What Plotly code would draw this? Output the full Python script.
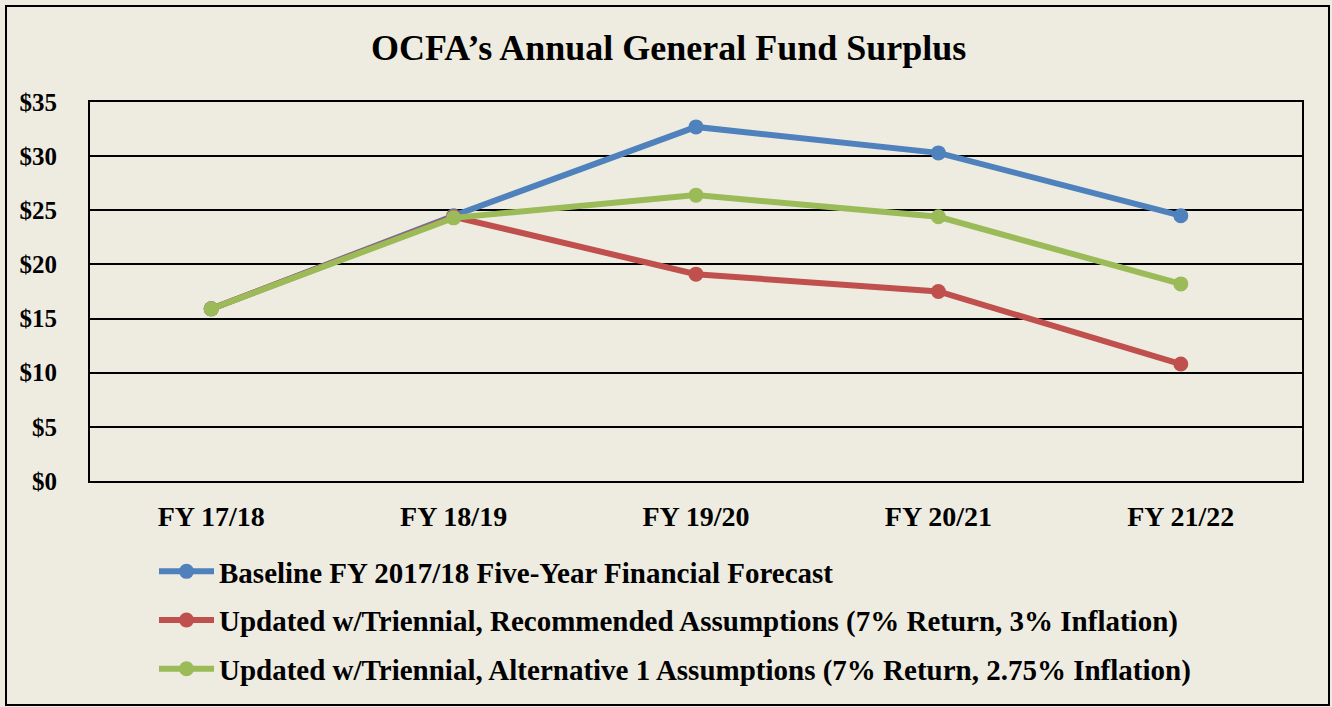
import plotly.graph_objects as go

categories = ["FY 17/18", "FY 18/19", "FY 19/20", "FY 20/21", "FY 21/22"]
baseline = [15.9, 24.5, 32.7, 30.3, 24.5]
recommended = [15.9, 24.4, 19.1, 17.5, 10.8]
alternative = [15.9, 24.3, 26.4, 24.4, 18.2]
series_names = [
    "Baseline FY 2017/18 Five-Year Financial Forecast",
    "Updated w/Triennial, Recommended Assumptions (7% Return, 3% Inflation)",
    "Updated w/Triennial, Alternative 1 Assumptions (7% Return, 2.75% Inflation)",
]
colors = ["#4F81BD", "#C0504D", "#9BBB59"]
y_ticks = [0, 5, 10, 15, 20, 25, 30, 35]
y_labels = ["$" + str(v) for v in y_ticks]

FONT = "Liberation Serif"
W, H = 1332, 707
L, R, T, B = 90, 30, 102, 226

fig = go.Figure()
for i, (name, vals) in enumerate(zip(series_names, [baseline, recommended, alternative])):
    fig.add_trace(go.Scatter(
        x=categories, y=vals, name="<b>" + name + "</b>", mode="lines+markers",
        line=dict(color=colors[i], width=6),
        marker=dict(color=colors[i], size=15),
        legendgroup="g" + str(i),
    ))

pw = W - L - R
ph = H - T - B
def px_x(p):
    return (p - L) / pw
def px_y(p):
    return (H - B - p) / ph

fig.add_shape(type="rect", xref="paper", yref="paper",
              x0=px_x(6), x1=px_x(1329), y0=px_y(705), y1=px_y(6),
              line=dict(color="black", width=2), fillcolor="rgba(0,0,0,0)", layer="below")

fig.update_layout(
    width=W, height=H,
    margin=dict(l=L, r=R, t=T, b=B, pad=0),
    paper_bgcolor="#EEECE1", plot_bgcolor="#EEECE1",
    font=dict(family=FONT, color="black"),
    title=dict(text="<b>OCFA’s Annual General Fund Surplus</b>", x=0.502, xref="container",
               xanchor="center", y=1 - 47 / H, yanchor="middle", font=dict(size=36, family=FONT)),
    showlegend=True,
    legend=dict(x=px_x(154), y=px_y(546), xanchor="left", yanchor="top",
                font=dict(size=29, family=FONT), bgcolor="rgba(0,0,0,0)",
                tracegroupgap=8, itemwidth=55, traceorder="grouped"),
    xaxis=dict(range=[-0.5, 4.5], showgrid=False, showline=True, linecolor="black", linewidth=2,
               mirror=True, tickfont=dict(size=28, family=FONT), ticks="", ticklabelstandoff=9,
               tickprefix="<b>", ticksuffix="</b>", fixedrange=True),
    yaxis=dict(range=[0, 35], tickvals=y_ticks, ticktext=["<b>" + t + "</b>" for t in y_labels],
               showgrid=True, gridcolor="black", gridwidth=2,
               showline=True, linecolor="black", linewidth=2, mirror=True,
               zeroline=False, ticks="", ticklabelstandoff=26,
               tickfont=dict(size=25, family=FONT)),
)

fig.write_html("out.html", config={"displayModeBar": False},
               post_script="document.body.style.margin='0';document.body.style.overflow='hidden';")
